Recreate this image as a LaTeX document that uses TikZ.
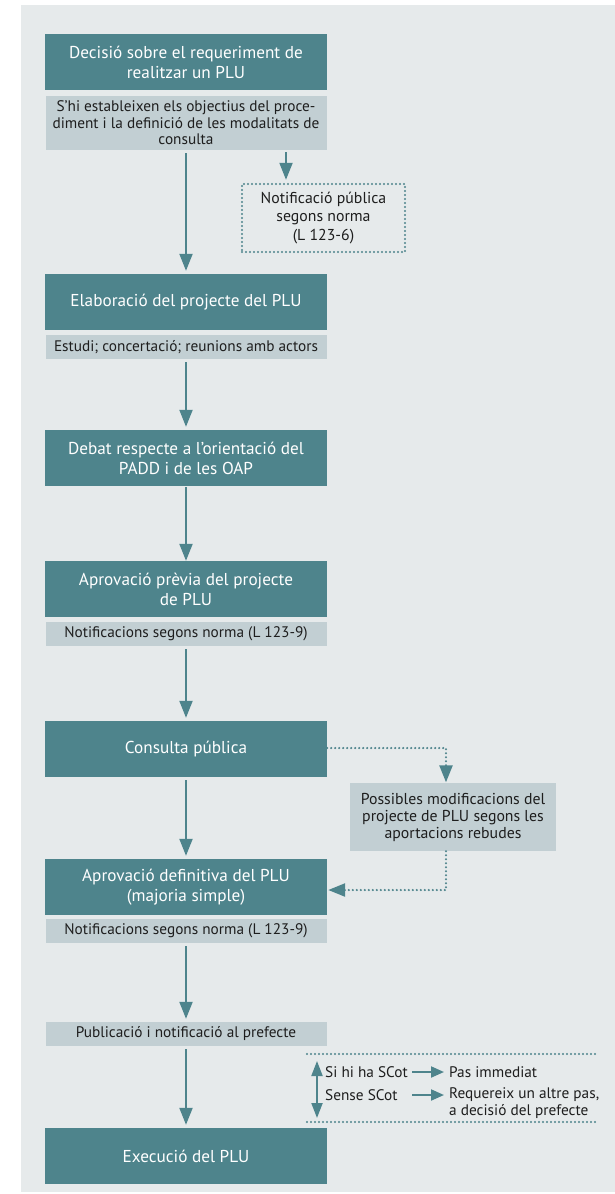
\documentclass[tikz,border=0pt]{standalone}
\usepackage{fontspec}
\setmainfont{PT Sans}
\usetikzlibrary{arrows.meta}
\definecolor{plteal}{RGB}{78,132,140}
\definecolor{pllight}{RGB}{194,207,211}
\definecolor{plpanel}{RGB}{230,234,235}
\definecolor{plink}{RGB}{30,30,30}
\tikzset{
  darkbox/.style={fill=plteal, text=white, minimum width=282pt, minimum height=56pt,
    align=center, inner sep=0pt, font=\fontsize{17.2}{20}\selectfont},
  lightbox/.style={fill=pllight, text=plink, minimum width=281pt, minimum height=24pt,
    align=center, inner sep=0pt, font=\fontsize{15.3}{16.5}\selectfont},
  notebox/.style={draw=plteal, line width=2.4pt, dash pattern=on 0pt off 4pt, line cap=round,
    text=plink, minimum width=163pt, minimum height=68pt, align=center, inner sep=0pt,
    font=\fontsize{15.8}{18.5}\selectfont},
  sidebox/.style={fill=pllight, text=plink, minimum width=206pt, minimum height=68pt,
    align=center, inner sep=0pt, font=\fontsize{15.8}{17}\selectfont},
  plaintext/.style={text=plink, inner sep=0pt, font=\fontsize{15.3}{17}\selectfont},
  flow/.style={draw=plteal, line width=2pt, -{Triangle[width=13pt,length=17pt]},
    shorten <=3pt, shorten >=3pt},
  dotflow/.style={draw=plteal, line width=2.4pt, dash pattern=on 0pt off 4pt, line cap=round,
    -{Triangle[width=13pt,length=17pt]}},
  dotrule/.style={draw=plteal, line width=2.4pt, dash pattern=on 0pt off 4pt, line cap=round},
  minorflow/.style={draw=plteal, line width=2pt, -{Triangle[width=11pt,length=13pt]}},
  twoway/.style={draw=plteal, line width=2pt,
    {Triangle[width=11pt,length=15pt]}-{Triangle[width=11pt,length=15pt]}},
}
\begin{document}
\begin{tikzpicture}[x=1pt,y=-1pt]
  \useasboundingbox (0,0) rectangle (615,1194);
  \fill[white] (0,0) rectangle (615,1194);
  \fill[plpanel] (21,5) rectangle (615,1192);

  % main column
  \node[darkbox] (d1) at (186,62) {Decisió sobre el requeriment de\\realitzar un PLU};
  \node[lightbox, minimum height=54pt] (l1) at (186,123)
    {S’hi estableixen els objectius del proce-\\diment i la definició de les modalitats de\\consulta};
  \node[darkbox] (d2) at (186,302) {Elaboració del projecte del PLU};
  \node[lightbox] (l2) at (186,347) {Estudi; concertació; reunions amb actors};
  \node[darkbox] (d3) at (186,458) {Debat respecte a l’orientació del\\PADD i de les OAP};
  \node[darkbox] (d4) at (186,589) {Aprovació prèvia del projecte\\de PLU};
  \node[lightbox] (l4) at (186,634) {Notificacions segons norma (L 123-9)};
  \node[darkbox] (d5) at (186,749) {Consulta pública};
  \node[darkbox] (d6) at (186,887) {Aprovació definitiva del PLU\\(majoria simple)};
  \node[lightbox] (l6) at (186,931) {Notificacions segons norma (L 123-9)};
  \node[lightbox] (l7) at (186,1034) {Publicació i notificació al prefecte};
  \node[darkbox] (d7) at (186,1156) {Execució del PLU};

  % side boxes
  \node[notebox] (n1) at (323.5,218) {Notificació pública\\segons norma\\(L 123-6)};
  \node[sidebox] (p) at (453,817) {Possibles modificacions del\\projecte de PLU segons les\\aportacions rebudes};

  % main flow
  \draw[flow] (l1) -- (d2);
  \draw[flow] (l2) -- (d3);
  \draw[flow, shorten <=1pt, shorten >=0pt] (d3) -- (d4);
  \draw[flow] (l4) -- (d5);
  \draw[flow] (d5) -- (d6);
  \draw[flow] (l6) -- (l7);
  \draw[flow] (l7) -- (d7);

  % branch to the public notice
  \coordinate (s1) at (286,150);
  \draw[flow, shorten <=2pt] (s1) -- (s1 |- n1.north);

  % consultation feedback loop
  \coordinate (c1) at (446,748);
  \coordinate (c2) at (446,890);
  \draw[dotflow, shorten >=0.5pt] (d5.east |- c1) -- (c1) -- (c1 |- p.north);
  \draw[dotflow, shorten >=1pt] (c2 |- p.south) -- (c2) -- (c2 -| d6.east);

  % control by the prefect
  \coordinate (r1a) at (307,1054);
  \coordinate (r1b) at (598,1054);
  \coordinate (r2a) at (307,1122);
  \coordinate (r2b) at (598,1122);
  \draw[dotrule] (r1a) -- (r1b);
  \draw[dotrule] (r2a) -- (r2b);
  \coordinate (v1) at (317,1061);
  \coordinate (v2) at (317,1118);
  \draw[twoway] (v1) -- (v2);
  \node[plaintext, anchor=west] (si) at (325,1072) {Si hi ha SCot};
  \node[plaintext, anchor=west] (se) at (325,1095) {Sense SCot};
  \node[plaintext, anchor=west] (pas) at (449,1072) {Pas immediat};
  \node[plaintext, anchor=west, align=left] (req) at (449,1103.5)
    {Requereix un altre pas,\\a decisió del prefecte};
  \coordinate (a1) at (412,1072);
  \coordinate (a2) at (412,1095);
  \draw[minorflow, shorten >=5pt] (a1) -- (pas.west);
  \draw[minorflow, shorten >=5pt] (a2) -- (a2 -| req.west);
\end{tikzpicture}
\end{document}
